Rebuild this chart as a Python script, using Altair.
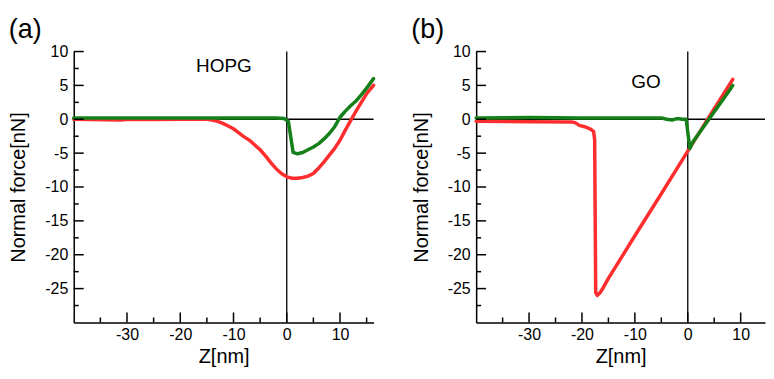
import altair as alt
import pandas as pd

# ---------------- data ----------------
# Panel (a) HOPG : approach (green) and retract (red) curves
a_app_z = [-40, -30, -20, -10, -5, -2, -0.5, 0.3, 1.2, 2, 3, 4, 5, 6, 7, 8, 9, 10, 11, 12, 13, 14, 15, 16.3]
a_app_f = [0.2, 0.2, 0.2, 0.2, 0.2, 0.2, 0.1, -0.3, -4.9, -5.1, -4.9, -4.5, -4.1, -3.6, -2.9, -2.1, -1.1, 0.3, 1.2, 2.0, 2.7, 3.6, 4.6, 6.0]
a_ret_z = [-40, -31, -30, -25, -20, -15, -14, -13, -12, -11, -10, -9, -8, -7, -6, -5, -4, -3, -2, -1, 0,
           1, 2, 3, 4, 5, 6, 7, 8, 9, 10, 11, 12, 13, 14, 15, 16.3]
a_ret_f = [0.0, -0.1, 0.0, -0.05, 0.0, 0.0, -0.1, -0.3, -0.6, -1.0, -1.4, -2.0, -2.6, -3.1, -3.8, -4.5, -5.4, -6.4, -7.3, -8.0, -8.5,
           -8.7, -8.7, -8.6, -8.4, -8.0, -7.2, -6.3, -5.3, -4.3, -3.1, -1.6, -0.2, 1.2, 2.5, 3.8, 5.0]

# Panel (b) GO
b_app_z = [-40, -30, -20, -10, -5, -4, -3, -2, -1, -0.3, 0.1, 0.4, 1, 2, 3, 4, 5, 6, 7, 8, 8.5]
b_app_f = [0.2, 0.25, 0.2, 0.2, 0.2, 0.0, -0.1, 0.1, 0.0, 0.0, -2.5, -4.3, -3.3, -2.2, -1.1, 0.0, 1.1, 2.2, 3.3, 4.4, 5.0]
b_ret_z = [-40, -30, -22, -21.3, -20.5, -19.5, -18.5, -17.8, -17.6, -17.4, -17.1, -16.6, -16, -15, -10, -5, 0, 4, 8.5]
b_ret_f = [-0.3, -0.35, -0.4, -0.5, -0.9, -1.1, -1.4, -1.8, -3.0, -25.6, -26.0, -25.6, -24.9, -23.5, -17.2, -11.0, -4.7, 0.3, 5.9]

y_major = [10, 5, 0, -5, -10, -15, -20, -25]
y_minor = [7.5, 2.5, -2.5, -7.5, -12.5, -17.5, -22.5, -27.5]
x_major = [-30, -20, -10, 0, 10]
xa_minor = [-35, -25, -15, -5, 5, 15]
xb_minor = [-35, -25, -15, -5, 5]

RED = "#ff2e2e"
GREEN = "#15801a"
FONT = "Liberation Sans"
H = 272
Y_DOM = [-30, 10]


def panel(letter, label, lx, ly, app_z, app_f, ret_z, ret_f, xdom, width, x_minor):
    xs = alt.Scale(domain=xdom, nice=False, zero=False)
    ys = alt.Scale(domain=Y_DOM, nice=False, zero=False)
    xaxis = alt.Axis(values=x_major, tickCount=50, title="Z[nm]", labelExpr="toString(datum.value)",
                     ticks=False, labelPadding=4, titlePadding=4, labelOverlap=False)
    yaxis = alt.Axis(values=y_major, tickCount=50, title="Normal force[nN]", labelExpr="toString(datum.value)",
                     ticks=False, labelPadding=6, titlePadding=16, labelOverlap=False)

    # tick lengths expressed in data units (pixels / px-per-unit)
    ypu = (Y_DOM[1] - Y_DOM[0]) / H
    xpu = (xdom[1] - xdom[0]) / width

    ret = pd.DataFrame({"z": ret_z, "f": ret_f, "i": range(len(ret_z))})
    app = pd.DataFrame({"z": app_z, "f": app_f, "i": range(len(app_z))})

    red = alt.Chart(ret).mark_line(color=RED, strokeWidth=3.5, strokeJoin="round", strokeCap="round").encode(
        x=alt.X("z:Q", scale=xs, axis=xaxis),
        y=alt.Y("f:Q", scale=ys, axis=yaxis),
        order="i:Q",
    )
    green = alt.Chart(app).mark_line(color=GREEN, strokeWidth=3.5, strokeJoin="round", strokeCap="round").encode(
        x="z:Q", y="f:Q", order="i:Q"
    )
    zero_v = alt.Chart(pd.DataFrame({"z": [0]})).mark_rule(color="black", strokeWidth=1.3).encode(x="z:Q")
    zero_h = alt.Chart(pd.DataFrame({"f": [0]})).mark_rule(color="black", strokeWidth=1.3).encode(y="f:Q")

    def xticks(vals, ln):
        d = pd.DataFrame({"z": vals, "f0": float(Y_DOM[0]), "f1": Y_DOM[0] + ln * ypu})
        return alt.Chart(d).mark_rule(color="black", strokeWidth=1.5).encode(
            x="z:Q", y="f0:Q", y2="f1:Q")

    def yticks(vals, ln):
        d = pd.DataFrame({"f": vals, "z0": float(xdom[0]), "z1": xdom[0] + ln * xpu})
        return alt.Chart(d).mark_rule(color="black", strokeWidth=1.5).encode(
            y="f:Q", x="z0:Q", x2="z1:Q")

    txt = alt.Chart(pd.DataFrame({"t": [label], "z": [lx], "f": [ly]})).mark_text(
        font=FONT, fontSize=19, color="black", align="center", baseline="alphabetic").encode(
        x="z:Q", y="f:Q", text="t:N")

    return alt.layer(zero_h, zero_v, red, green, xticks(x_major, 10), xticks(x_minor, 5),
                     yticks(y_major, 10), yticks(y_minor, 5), txt).properties(
        width=width, height=H,
        title=alt.TitleParams(letter, anchor="start", fontSize=27, font=FONT, fontWeight="normal",
                              color="black", offset=0),
    )


pa = panel("(a)", "HOPG", -11.8, 7.0, a_app_z, a_app_f, a_ret_z, a_ret_f, [-40, 16.3], 301, xa_minor)
pb = panel("(b)", "GO", -7.9, 4.6, b_app_z, b_app_f, b_ret_z, b_ret_f, [-40, 14.6], 290, xb_minor)

chart = alt.hconcat(pa, pb, spacing=35).properties(
    padding={"left": 0, "top": 7, "right": 0, "bottom": 0}
).configure_view(stroke=None).configure_axis(
    labelFont=FONT, titleFont=FONT, labelFontSize=16, titleFontSize=20,
    labelColor="black", titleColor="black", titleFontWeight="normal",
    domainColor="black", domainWidth=1.5, grid=False,
)

chart.save("out.html", embed_options={"renderer": "svg", "actions": False})
